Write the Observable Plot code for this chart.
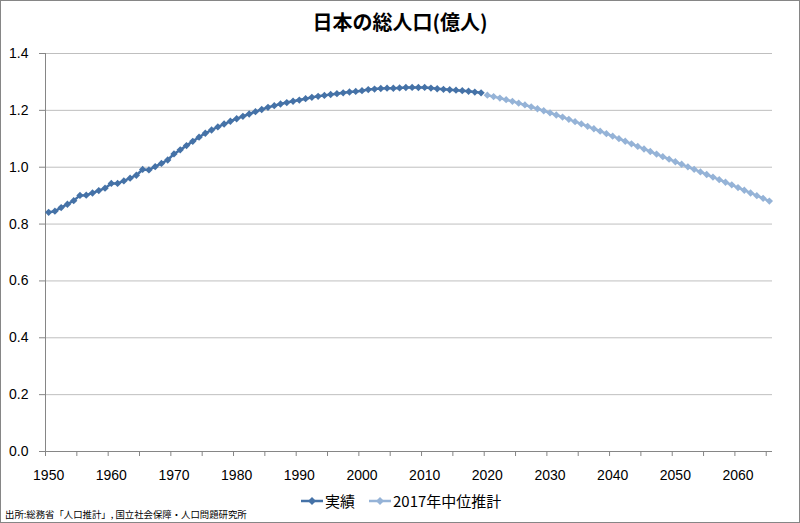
<!DOCTYPE html>
<html><head><meta charset="utf-8">
<script src="https://cdn.jsdelivr.net/npm/d3@7"></script>
<script src="https://cdn.jsdelivr.net/npm/@observablehq/plot@0.6"></script>
<style>
body{margin:0;background:#fff;}
#wrap{position:relative;width:800px;height:523px;overflow:hidden;background:#fff;font-family:"Noto Sans CJK JP",sans-serif;color:#000;}
#title{position:absolute;left:0;width:800px;top:8px;text-align:center;font-size:20px;font-weight:bold;line-height:28px;}
#chart{position:absolute;left:0;top:40px;}
#legend{position:absolute;top:490px;left:0;}
#caption{position:absolute;left:5px;top:507px;font-size:9.4px;line-height:15px;white-space:nowrap;}
#border{position:absolute;left:0;top:0;width:798px;height:521px;border:1px solid #868686;pointer-events:none;}
</style></head>
<body>
<div id="wrap">
  <div id="title">日本の総人口(億人)</div>
  <div id="chart"></div>
  <div id="legend"></div>
  <div id="caption">出所:総務省「人口推計」, 国立社会保障・人口問題研究所</div>
  <div id="border"></div>
</div>
<script>
// ---- data ----
const seriesNames = ["実績", "2017年中位推計"];
const actualStart = 1950;
const actualValues = [
  0.8412,0.8454,0.8581,0.8698,0.8824,0.9008,0.9017,0.9093,0.9177,0.9264,
  0.9430,0.9429,0.9518,0.9616,0.9718,0.9921,0.9904,1.0020,1.0133,1.0254,
  1.0467,1.0610,1.0760,1.0910,1.1057,1.1194,1.1309,1.1417,1.1519,1.1616,
  1.1706,1.1790,1.1873,1.1954,1.2031,1.2105,1.2166,1.2224,1.2275,1.2321,
  1.2361,1.2410,1.2457,1.2494,1.2527,1.2557,1.2586,1.2616,1.2647,1.2667,
  1.2693,1.2732,1.2749,1.2769,1.2779,1.2777,1.2790,1.2803,1.2808,1.2803,
  1.2806,1.2783,1.2759,1.2741,1.2724,1.2710,1.2693,1.2671,1.2644,1.2617
];
const projStart = 2020;
const projValues = [
  1.2533,1.2484,1.2431,1.2375,1.2316,1.2254,1.2190,1.2124,1.2056,1.1985,
  1.1913,1.1838,1.1762,1.1683,1.1603,1.1522,1.1438,1.1354,1.1267,1.1180,
  1.1092,1.1003,1.0913,1.0823,1.0732,1.0642,1.0552,1.0462,1.0372,1.0282,
  1.0192,1.0103,1.0014,0.9924,0.9834,0.9744,0.9654,0.9563,0.9472,0.9380,
  0.9284,0.9189,0.9094,0.8999,0.8904,0.8808
];
const xTickLabels = [1950,1960,1970,1980,1990,2000,2010,2020,2030,2040,2050,2060];
const yTickValues = [0,0.2,0.4,0.6,0.8,1.0,1.2,1.4];
const colors = ["#4572A7", "#95B3D7"];

const actual = actualValues.map((v,i)=>({year: actualStart+i, value: v}));
const proj = projValues.map((v,i)=>({year: projStart+i, value: v}));
const firstYear = actualStart, lastYear = projStart + projValues.length - 1;
// category boundaries every 5 categories
const boundaries = d3.range(firstYear - 0.5, lastYear, 5);

const gridColor = "#BFBFBF", axisColor = "#868686";

const chart = Plot.plot({
  width: 800, height: 450,
  marginLeft: 45, marginRight: 28, marginTop: 13, marginBottom: 39,
  style: {fontFamily: "'Liberation Sans', Arial, sans-serif", fontSize: "14px", color: "#000", background: "transparent"},
  x: {domain: [firstYear - 0.5, lastYear + 0.5]},
  y: {domain: [0, 1.4]},
  marks: [
    Plot.ruleY(yTickValues.filter(d => d > 0), {stroke: gridColor, strokeWidth: 1}),
    Plot.ruleY([0], {stroke: axisColor}),
    Plot.ruleX([firstYear - 0.5], {stroke: axisColor}),
    Plot.axisX({ticks: boundaries, tickFormat: () => "", tickSize: 5, stroke: axisColor, label: null}),
    Plot.axisX({ticks: xTickLabels, tickFormat: d => String(d), tickSize: 0, tickPadding: 19, label: null, fill: "#000"}),
    Plot.axisY({ticks: yTickValues, tickFormat: () => "", tickSize: 6, stroke: axisColor, label: null}),
    Plot.axisY({ticks: yTickValues, tickFormat: d3.format(".1f"), tickSize: 0, tickPadding: 17, label: null, fill: "#000"}),
    Plot.line(actual, {x: "year", y: "value", stroke: colors[0], strokeWidth: 2.5}),
    Plot.line(proj, {x: "year", y: "value", stroke: colors[1], strokeWidth: 2.5}),
    Plot.dot(actual, {x: "year", y: "value", symbol: "diamond2", r: 3.3, fill: colors[0]}),
    Plot.dot(proj, {x: "year", y: "value", symbol: "diamond2", r: 3.3, fill: colors[1]})
  ]
});
document.getElementById("chart").appendChild(chart);

// ---- legend ----
const leg = d3.select("#legend").append("svg").attr("width", 800).attr("height", 22);
const items = [{x0: 301, x1: 323, tx: 325}, {x0: 369, x1: 391, tx: 393}];
items.forEach((it, i) => {
  const g = leg.append("g");
  g.append("line").attr("x1", it.x0).attr("x2", it.x1).attr("y1", 11).attr("y2", 11)
    .attr("stroke", colors[i]).attr("stroke-width", 2.5);
  const c = (it.x0 + it.x1) / 2;
  g.append("path").attr("d", `M${c},${11-4}L${c+4},11L${c},${11+4}L${c-4},11Z`).attr("fill", colors[i]);
  g.append("text").attr("x", it.tx).attr("y", 16.5).attr("font-size", 15)
    .attr("font-family", "'Noto Sans CJK JP', sans-serif").attr("fill", "#000").text(seriesNames[i]);
});
</script>
</body></html>
